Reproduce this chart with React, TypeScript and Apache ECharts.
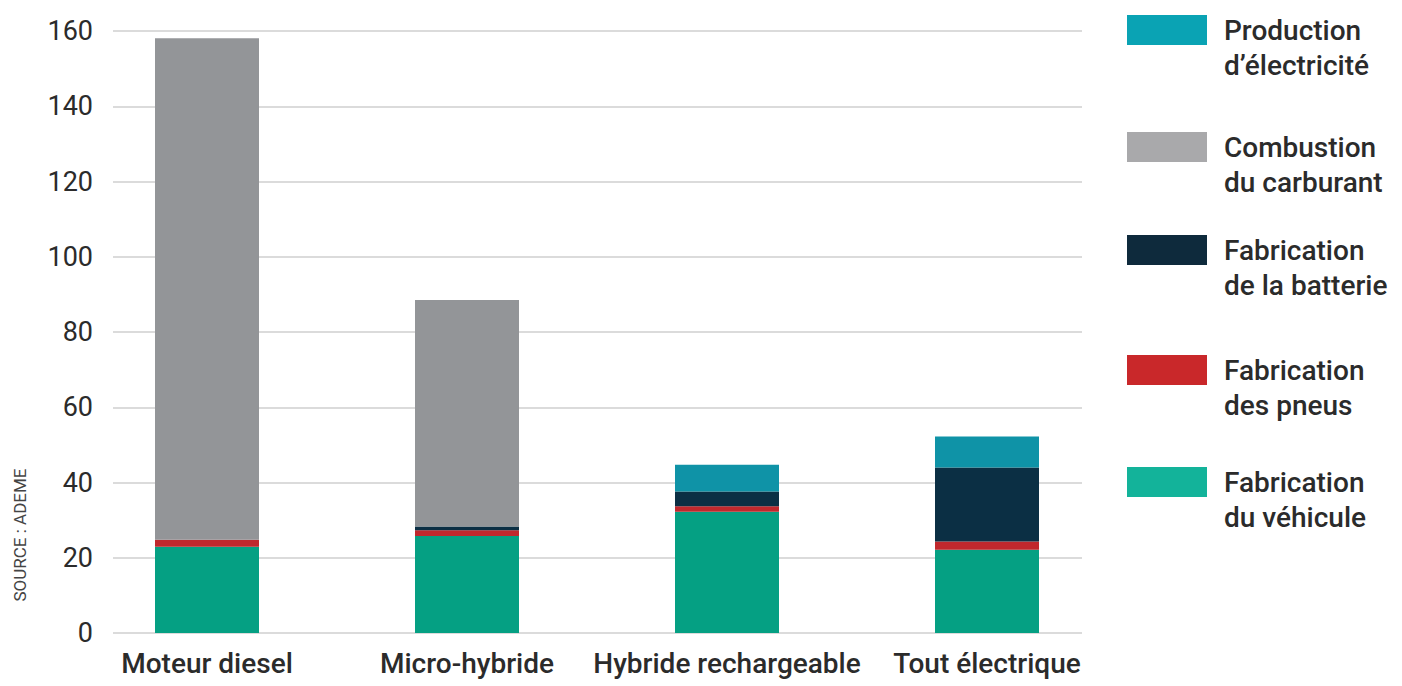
import React, { useEffect, useRef } from "react";
import * as echarts from "echarts";

const categories = ["Moteur diesel", "Micro-hybride", "Hybride rechargeable", "Tout électrique"];
const vehicule = [22.9, 25.8, 32.2, 22.1];
const pneus = [1.9, 1.5, 1.5, 2.2];
const batterie = [0, 1.0, 3.9, 19.7];
const combustion = [133.3, 60.2, 0, 0];
const electricite = [0, 0, 7.1, 8.2];
const yTicks = [0, 20, 40, 60, 80, 100, 120, 140, 160];

const seriesDefs = [
  { name: "Fabrication\ndu véhicule", data: vehicule, color: "#05a083", legendColor: "#13b39a" },
  { name: "Fabrication\ndes pneus", data: pneus, color: "#c0282d", legendColor: "#c9282a" },
  { name: "Fabrication\nde la batterie", data: batterie, color: "#0b2f44", legendColor: "#0e2a3c" },
  { name: "Combustion\ndu carburant", data: combustion, color: "#939598", legendColor: "#a9a9ab" },
  { name: "Production\nd’électricité", data: electricite, color: "#0f93a7", legendColor: "#0aa3b4" },
];

const legendOrder = [4, 3, 2, 1, 0];
const legendTops = [15, 132, 235, 355, 467];

const FONT = "Roboto, 'DejaVu Sans', sans-serif";

export default function App() {
  const ref = useRef<HTMLDivElement>(null);
  useEffect(() => {
    if (!ref.current) return;
    const chart = echarts.init(ref.current, null, { renderer: "svg" });
    const graphics: any[] = [];
    legendOrder.forEach((si, i) => {
      const s = seriesDefs[si];
      graphics.push({
        type: "rect",
        left: 1127,
        top: legendTops[i],
        shape: { width: 80, height: 30 },
        style: { fill: s.legendColor },
      });
      graphics.push({
        type: "text",
        left: 1224,
        top: legendTops[i] - 2,
        style: {
          text: s.name,
          fill: "#2b2b2b",
          font: `500 28px ${FONT}`,
          lineHeight: 35,
        },
      });
    });
    graphics.push({
      type: "text",
      x: 11,
      y: 535,
      rotation: Math.PI / 2,
      style: {
        text: "SOURCE : ADEME",
        fill: "#444",
        font: `17px ${FONT}`,
        align: "center",
        verticalAlign: "top",
      },
    });

    chart.setOption({
      animation: false,
      backgroundColor: "#ffffff",
      grid: [
        { left: 113, right: 320, top: 31, bottom: 53 },
        { left: 77, right: 285, top: 31, bottom: 53 },
      ],
      xAxis: [
        { type: "value", gridIndex: 0, show: false, min: 0, max: 1 },
        {
          type: "category",
          gridIndex: 1,
          data: categories,
          axisLine: { show: false },
          axisTick: { show: false },
          axisLabel: {
            interval: 0,
            color: "#2b2b2b",
            fontSize: 28,
            fontFamily: FONT,
            fontWeight: 500,
            margin: 16,
          },
        },
      ],
      yAxis: [
        {
          type: "value",
          gridIndex: 0,
          min: 0,
          max: 160,
          interval: 20,
          axisLine: { show: false },
          axisTick: { show: false },
          splitLine: { lineStyle: { color: "#cfcfcf", width: 1.5 } },
          axisLabel: {
            color: "#2b2b2b",
            fontSize: 27,
            fontFamily: FONT,
            margin: 20,
            formatter: (v: number) => (yTicks.includes(v) ? String(v) : ""),
          },
        },
        {
          type: "value",
          gridIndex: 1,
          min: 0,
          max: 160,
          interval: 20,
          show: false,
          splitLine: { show: false },
        },
      ],
      series: seriesDefs.map((s) => ({
        name: s.name,
        type: "bar",
        stack: "total",
        xAxisIndex: 1,
        yAxisIndex: 1,
        barWidth: 104,
        data: s.data,
        itemStyle: { color: s.color },
      })),
      graphic: graphics,
    });
    return () => chart.dispose();
  }, []);
  return <div ref={ref} style={{ width: 1402, height: 686, position: "absolute", left: 0, top: 0 }} />;
}
